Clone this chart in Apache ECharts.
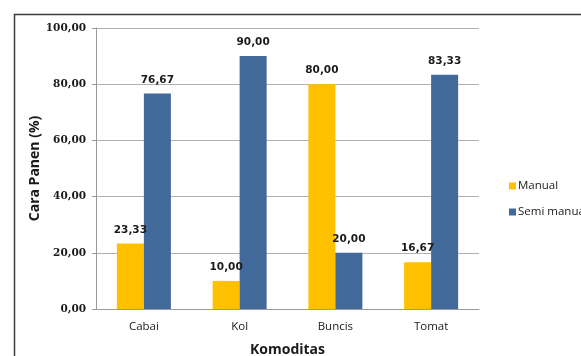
<!DOCTYPE html>
<html>
<head>
<meta charset="utf-8">
<script src="https://cdn.jsdelivr.net/npm/echarts@6/dist/echarts.min.js"></script>
<style>
  html, body { margin: 0; padding: 0; background: #fff; }
  #chart { width: 581px; height: 356px; }
</style>
</head>
<body>
<div id="chart"></div>
<script>
// Harvest method share per commodity
const categories = ['Cabai', 'Kol', 'Buncis', 'Tomat'];
const manual = [23.33, 10.00, 80.00, 16.67];
const semiManual = [76.67, 90.00, 20.00, 83.33];
const yTicks = [0, 20, 40, 60, 80, 100];

const fmt = v => v.toFixed(2).replace('.', ',');

const chart = echarts.init(document.getElementById('chart'), null, { renderer: 'canvas' });

const labelStyle = {
  show: true,
  position: 'top',
  distance: 8,
  fontFamily: 'DejaVu Sans',
  fontWeight: 'bold',
  fontSize: 10.5,
  color: '#1a1a1a',
  formatter: p => fmt(p.value)
};

chart.setOption({
  animation: false,
  backgroundColor: '#ffffff',
  graphic: [{
    type: 'rect',
    left: 12, top: 12,
    shape: { width: 600, height: 400 },
    style: { fill: 'none', stroke: '#3c3c3c', lineWidth: 1.5 },
    silent: true
  }],
  grid: { left: 96, right: 102, top: 28, bottom: 47, containLabel: false, outerBoundsMode: 'none' },
  legend: {
    orient: 'vertical',
    left: 504, top: 175,
    itemWidth: 7, itemHeight: 7, itemGap: 14,
    icon: 'rect',
    textStyle: { fontFamily: 'Open Sans', fontSize: 11.5, color: '#1a1a1a', padding: [0, 0, 0, -3] },
    data: ['Manual', 'Semi manual']
  },
  xAxis: {
    type: 'category',
    data: categories,
    name: 'Komoditas',
    nameLocation: 'middle',
    nameGap: 34,
    nameMoveOverlap: false,
    nameTextStyle: { fontFamily: 'Open Sans', fontWeight: 'bold', fontSize: 14, color: '#1a1a1a' },
    axisLine: { lineStyle: { color: '#9a9a9a', width: 1 } },
    axisTick: { show: false },
    axisLabel: { fontFamily: 'Open Sans', fontSize: 11.5, color: '#1a1a1a', margin: 12 }
  },
  yAxis: {
    type: 'value',
    min: 0, max: 100, interval: 20,
    name: 'Cara Panen (%)',
    nameLocation: 'middle',
    nameGap: 54,
    nameMoveOverlap: false,
    nameTextStyle: { fontFamily: 'Open Sans', fontWeight: 'bold', fontSize: 14, color: '#1a1a1a' },
    axisLine: { show: true, lineStyle: { color: '#9a9a9a', width: 1 } },
    axisTick: { show: true, length: 4, lineStyle: { color: '#9a9a9a' } },
    splitLine: { lineStyle: { color: '#b0b0b0', width: 1 } },
    axisLabel: {
      fontFamily: 'DejaVu Serif', fontWeight: 'bold', fontSize: 10.5, color: '#1a1a1a', margin: 10,
      formatter: v => yTicks.includes(v) ? fmt(v) : ''
    }
  },
  series: [
    {
      name: 'Manual',
      type: 'bar',
      data: manual,
      barWidth: 27,
      barGap: '0%',
      itemStyle: { color: '#ffc000' },
      label: labelStyle
    },
    {
      name: 'Semi manual',
      type: 'bar',
      data: semiManual,
      barWidth: 27,
      barGap: '0%',
      itemStyle: { color: '#41699a' },
      label: labelStyle
    }
  ]
});
</script>
</body>
</html>
